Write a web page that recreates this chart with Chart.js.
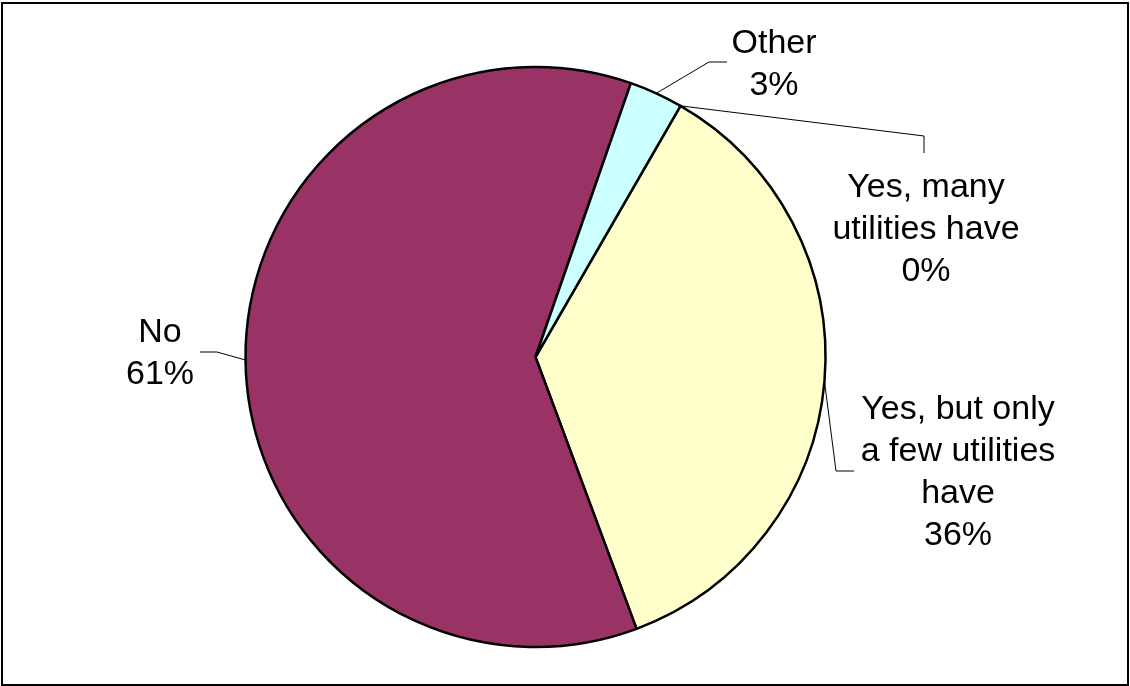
<!DOCTYPE html>
<html>
<head>
<meta charset="utf-8">
<script src="https://cdn.jsdelivr.net/npm/chart.js@4.4.1/dist/chart.umd.min.js"></script>
<style>
  html, body { margin: 0; padding: 0; background: #fff; }
  #wrap { width: 1130px; height: 686px; position: relative; }
</style>
</head>
<body>
<div id="wrap"><canvas id="c" width="1130" height="686"></canvas></div>
<script>
// ---- data ----
const categories = ["Yes, many\nutilities have", "Yes, but only\na few utilities\nhave", "No", "Other"];
const values = [0, 36, 61, 3];
const colors = ["#9999FF", "#FFFFCC", "#993366", "#CCFFFF"];

// ---- label layout (positions only, not data) ----
const labelLayout = [
  { x: 926, y: 197, path: [[924, 136], [924, 153]] },
  { x: 958, y: 419, path: [[836, 471], [854, 471]] },
  { x: 160, y: 342, path: [[217, 352], [200, 352]] },
  { x: 774, y: 53,  path: [[709, 62], [727, 62]] }
];

const labelPlugin = {
  id: 'pieLabels',
  beforeDraw(chart) {
    const ctx = chart.ctx;
    ctx.save();
    ctx.fillStyle = '#fff';
    ctx.fillRect(0, 0, chart.width, chart.height);
    ctx.restore();
  },
  afterDraw(chart) {
    const ctx = chart.ctx;
    const meta = chart.getDatasetMeta(0);
    ctx.save();
    // outer frame
    ctx.strokeStyle = '#000';
    ctx.lineWidth = 2;
    ctx.strokeRect(2, 3, 1126, 682);
    ctx.lineWidth = 1;
    ctx.font = '34px "Liberation Sans", Arial, sans-serif';
    ctx.textAlign = 'center';
    ctx.textBaseline = 'alphabetic';
    ctx.fillStyle = '#000';
    meta.data.forEach((arc, i) => {
      const p = arc.getProps(['x', 'y', 'startAngle', 'endAngle', 'outerRadius'], true);
      const mid = (p.startAngle + p.endAngle) / 2;
      const sx = p.x + Math.cos(mid) * p.outerRadius;
      const sy = p.y + Math.sin(mid) * p.outerRadius;
      const L = labelLayout[i];
      ctx.beginPath();
      ctx.moveTo(sx, sy);
      L.path.forEach(pt => ctx.lineTo(pt[0], pt[1]));
      ctx.stroke();
      const lines = categories[i].split('\n').concat([values[i] + '%']);
      lines.forEach((t, k) => ctx.fillText(t, L.x, L.y + k * 42));
    });
    ctx.restore();
  }
};

new Chart(document.getElementById('c'), {
  type: 'pie',
  data: {
    labels: categories,
    datasets: [{
      data: values,
      backgroundColor: colors,
      borderColor: '#000',
      borderWidth: 2.5
    }]
  },
  options: {
    responsive: false,
    animation: false,
    rotation: 30,
    radius: 290,
    layout: { padding: { left: 0, right: 59, top: 28, bottom: 0 } },
    plugins: {
      legend: { display: false },
      tooltip: { enabled: false }
    }
  },
  plugins: [labelPlugin]
});
</script>
</body>
</html>
